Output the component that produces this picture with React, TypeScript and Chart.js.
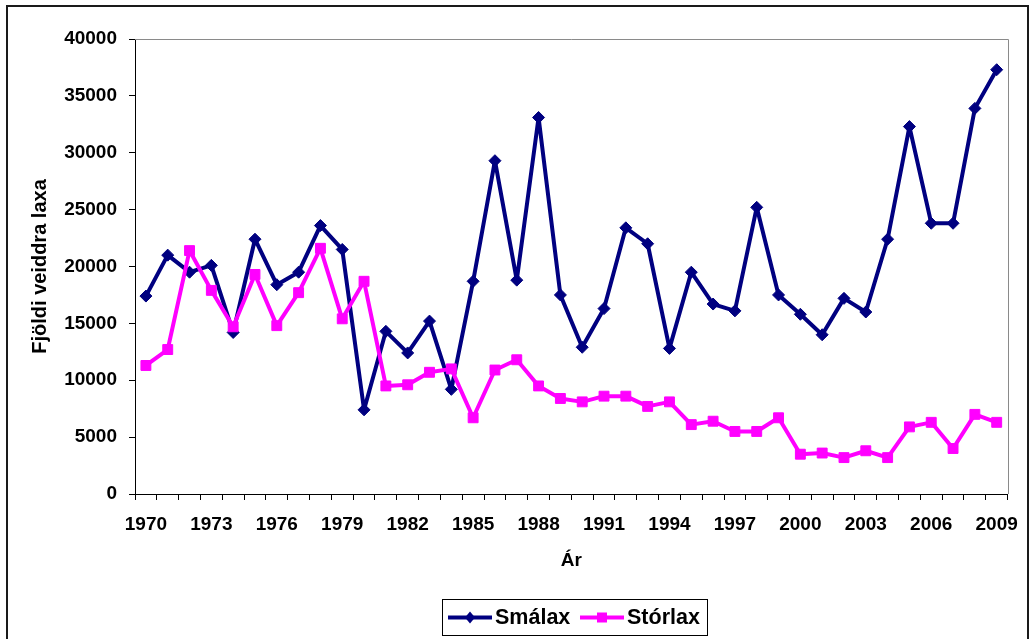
import React, { useEffect, useRef } from "react";
import { Chart, registerables } from "chart.js";

Chart.register(...registerables);

const years: string[] = [
  "1970", "1971", "1972", "1973", "1974", "1975", "1976", "1977", "1978", "1979",
  "1980", "1981", "1982", "1983", "1984", "1985", "1986", "1987", "1988", "1989",
  "1990", "1991", "1992", "1993", "1994", "1995", "1996", "1997", "1998", "1999",
  "2000", "2001", "2002", "2003", "2004", "2005", "2006", "2007", "2008", "2009",
];

const smalax: number[] = [
  17400, 21000, 19500, 20100, 14200, 22400, 18400, 19500, 23600, 21500,
  7400, 14300, 12400, 15200, 9200, 18700, 29300, 18800, 33100, 17500,
  12900, 16300, 23400, 22000, 12800, 19500, 16700, 16100, 25200, 17500,
  15800, 14000, 17200, 16000, 22400, 32300, 23800, 23800, 33900, 37300,
];

const storlax: number[] = [
  11300, 12700, 21400, 17900, 14700, 19300, 14800, 17700, 21600, 15400,
  18700, 9500, 9600, 10700, 11000, 6700, 10900, 11800, 9500, 8400,
  8100, 8600, 8600, 7700, 8100, 6100, 6400, 5500, 5500, 6700,
  3500, 3600, 3200, 3800, 3200, 5900, 6300, 4000, 7000, 6300,
];

const seriesNames: string[] = ["Smálax", "Stórlax"];
const yTitle = "Fjöldi veiddra laxa";
const xTitle = "Ár";

const FONT = "'Liberation Sans', Arial, sans-serif";
const NAVY = "#000080";
const MAGENTA = "#FF00FF";

const framePlugin = {
  id: "framePlugin",
  beforeDraw(chart: any) {
    const ctx = chart.ctx;
    ctx.save();
    ctx.fillStyle = "#ffffff";
    ctx.fillRect(0, 0, chart.width, chart.height);
    ctx.strokeStyle = "#1a1a1a";
    ctx.lineWidth = 2;
    ctx.strokeRect(7, 6, 1021, 700);
    ctx.restore();
  },
  afterDraw(chart: any) {
    const ctx = chart.ctx;
    const a = chart.chartArea;
    ctx.save();
    // plot area top/right grey border
    ctx.strokeStyle = "#8a8a8a";
    ctx.lineWidth = 1;
    ctx.beginPath();
    ctx.moveTo(Math.round(a.left), Math.round(a.top) + 0.5);
    ctx.lineTo(Math.round(a.right) + 0.5, Math.round(a.top) + 0.5);
    ctx.lineTo(Math.round(a.right) + 0.5, Math.round(a.bottom));
    ctx.stroke();

    // legend
    const boxX = 442.5, boxY = 599.5, boxW = 265, boxH = 36;
    ctx.strokeStyle = "#000000";
    ctx.lineWidth = 1;
    ctx.strokeRect(boxX, boxY, boxW, boxH);
    const cy = boxY + boxH / 2;
    ctx.font = `bold 21.5px ${FONT}`;
    ctx.textBaseline = "middle";
    ctx.textAlign = "left";
    const items = chart.data.datasets.map((d: any, i: number) => ({
      label: d.label,
      color: d.borderColor,
      style: d.pointStyle,
      x0: i === 0 ? 448 : 580,
    }));
    items.forEach((it: any) => {
      ctx.strokeStyle = it.color;
      ctx.lineWidth = 4;
      ctx.beginPath();
      ctx.moveTo(it.x0, cy);
      ctx.lineTo(it.x0 + 44, cy);
      ctx.stroke();
      ctx.fillStyle = it.color;
      ctx.beginPath();
      const mx = it.x0 + 22;
      if (it.style === "rectRot") {
        ctx.moveTo(mx, cy - 6);
        ctx.lineTo(mx + 5, cy);
        ctx.lineTo(mx, cy + 6);
        ctx.lineTo(mx - 5, cy);
        ctx.closePath();
      } else {
        ctx.rect(mx - 5, cy - 5, 10, 10);
      }
      ctx.fill();
      ctx.fillStyle = "#000000";
      ctx.fillText(it.label, it.x0 + 47, cy + 1);
    });
    ctx.restore();
  },
};

export default function App() {
  const ref = useRef<HTMLCanvasElement | null>(null);

  useEffect(() => {
    if (!ref.current) return;
    const chart = new Chart(ref.current, {
      type: "line",
      data: {
        labels: years,
        datasets: [
          {
            label: seriesNames[0],
            data: smalax,
            borderColor: NAVY,
            backgroundColor: NAVY,
            borderWidth: 4,
            borderJoinStyle: "round",
            pointStyle: "rectRot",
            pointRadius: 6,
            pointBorderWidth: 1,
            pointBackgroundColor: NAVY,
            pointBorderColor: NAVY,
            tension: 0,
            order: 1,
          },
          {
            label: seriesNames[1],
            data: storlax,
            borderColor: MAGENTA,
            backgroundColor: MAGENTA,
            borderWidth: 4,
            borderJoinStyle: "round",
            pointStyle: "rect",
            pointRadius: 7,
            pointBorderWidth: 1,
            pointBackgroundColor: MAGENTA,
            pointBorderColor: MAGENTA,
            tension: 0,
            order: 0,
          },
        ],
      },
      options: {
        responsive: false,
        animation: false,
        devicePixelRatio: 1,
        layout: { padding: { top: 39, right: 14, left: 0, bottom: 67 } },
        plugins: {
          legend: { display: false },
          tooltip: { enabled: false },
          title: { display: false },
        },
        scales: {
          x: {
            type: "category",
            offset: true,
            grid: {
              offset: true,
              drawOnChartArea: false,
              drawTicks: true,
              tickLength: 6,
              tickColor: "#000000",
              tickWidth: 1,
            },
            border: { display: true, color: "#000000", width: 1 },
            ticks: {
              autoSkip: false,
              maxRotation: 0,
              minRotation: 0,
              padding: 13,
              color: "#000000",
              font: { family: FONT, size: 19, weight: "bold" },
              callback: (_v: any, i: number) => (i % 3 === 0 ? years[i] : ""),
            },
            title: {
              display: true,
              text: xTitle,
              color: "#000000",
              padding: { top: 0, bottom: 0 },
              font: { family: FONT, size: 19, weight: "bold" },
            },
            afterFit: (s: any) => {
              s.height = 78;
            },
          },
          y: {
            min: 0,
            max: 40000,
            grid: {
              drawOnChartArea: false,
              drawTicks: true,
              tickLength: 6,
              tickColor: "#000000",
              tickWidth: 1,
            },
            border: { display: true, color: "#000000", width: 1 },
            ticks: {
              stepSize: 5000,
              padding: 12,
              color: "#000000",
              font: { family: FONT, size: 19, weight: "bold" },
              callback: (v: any) => String(v),
            },
            title: {
              display: true,
              text: yTitle,
              color: "#000000",
              padding: { top: 28, bottom: 0 },
              font: { family: FONT, size: 20, weight: "bold" },
            },
            afterFit: (s: any) => {
              s.width = 135;
            },
          },
        },
      },
      plugins: [framePlugin],
    });
    return () => chart.destroy();
  }, []);

  return (
    <div style={{ position: "absolute", left: 0, top: 0, width: 1031, height: 639, overflow: "hidden" }}>
      <canvas ref={ref} width={1031} height={639} style={{ width: 1031, height: 639, display: "block" }} />
    </div>
  );
}
